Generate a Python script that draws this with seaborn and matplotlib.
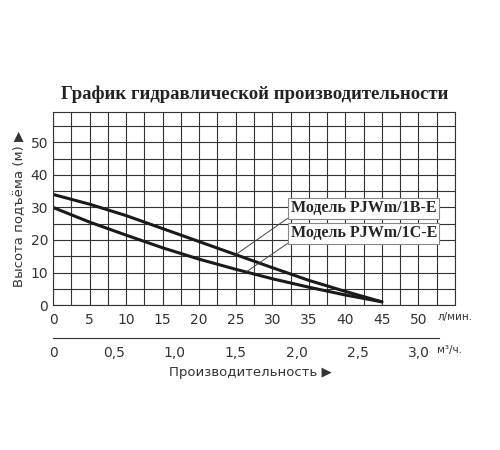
import numpy as np
import matplotlib.pyplot as plt
import seaborn as sns

flow_lpm = [0, 5, 10, 15, 20, 25, 30, 35, 40, 45]
head_1b = [34, 31, 27.5, 23.5, 19.5, 15.5, 11.5, 7.6, 4.2, 1]
head_1c = [30, 25.5, 21.5, 17.6, 14.1, 11, 8.1, 5.5, 3.1, 1]
m3h_ticks = [0, 0.5, 1.0, 1.5, 2.0, 2.5, 3.0]
m3h_labels = ["0", "0,5", "1,0", "1,5", "2,0", "2,5", "3,0"]

sns.set_style("white")
plt.rcParams["font.family"] = ["DejaVu Sans"]

fig = plt.figure(figsize=(5, 4.5), dpi=100)
ax = fig.add_axes([0.106, 0.322, 0.804, 0.429])

sns.lineplot(x=flow_lpm, y=head_1b, ax=ax, color="#1a1a1a", lw=2.2)
sns.lineplot(x=flow_lpm, y=head_1c, ax=ax, color="#1a1a1a", lw=2.2)

ax.set_xlim(0, 55)
ax.set_ylim(0, 59.3)
ax.set_xticks(np.arange(0, 55.1, 2.5), minor=True)
ax.set_xticks(range(0, 51, 5))
ax.set_yticks(range(0, 51, 10))
ax.set_yticks(range(0, 56, 5), minor=True)
ax.grid(True, which="both", color="#333333", lw=0.8)
for s in ax.spines.values():
    s.set_color("#333333")
    s.set_linewidth(0.8)
ax.tick_params(which="both", length=0, labelsize=10, colors="#333333")
ax.tick_params(axis="x", pad=6)
ax.set_ylabel("Высота подъёма (м) ▶", fontsize=9.5, color="#333333")

ax.text(52.6, -2.2, "л/мин.", fontsize=7.5, color="#333333", va="top")

sec = ax.secondary_xaxis(-0.17, functions=(lambda x: x / (50 / 3.0), lambda m: m * (50 / 3.0)))
sec.set_xticks(m3h_ticks)
sec.set_xticklabels(m3h_labels)
sec.tick_params(length=0, labelsize=10, colors="#333333", pad=6)
sec.spines["bottom"].set_color("#333333")
sec.spines["bottom"].set_bounds(0, 3.17)
ax.text(52.6, -12.4, "м³/ч.", fontsize=7.5, color="#333333", va="top")
fig.text(0.5, 0.165, "Производительность ▶", fontsize=9.5, color="#333333", ha="center")

fig.text(0.51, 0.78, "График гидравлической производительности",
         fontsize=13.5, fontweight="bold", family="Liberation Serif", ha="center", color="#222222")

box = dict(boxstyle="square,pad=0.15", fc="white", ec="#888888", lw=0.8)
ax.annotate("Модель PJWm/1B-E", xy=(25, 15.5), xytext=(32.5, 28.5),
            fontsize=11.5, fontweight="bold", family="Liberation Serif", bbox=box,
            arrowprops=dict(arrowstyle="-", color="#444444", lw=0.7, shrinkA=0, shrinkB=0,
                            relpos=(0, 0)))
ax.annotate("Модель PJWm/1C-E", xy=(26.5, 10.3), xytext=(32.5, 20.8),
            fontsize=11.5, fontweight="bold", family="Liberation Serif", bbox=box,
            arrowprops=dict(arrowstyle="-", color="#444444", lw=0.7, shrinkA=0, shrinkB=0,
                            relpos=(0, 0)))

fig.savefig("out.png", dpi=100)
